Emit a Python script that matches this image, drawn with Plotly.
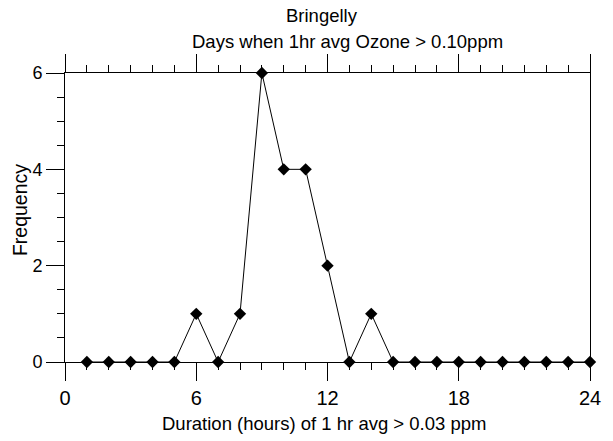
import plotly.graph_objects as go

# Data
duration_hours = list(range(1, 25))
frequency = [0, 0, 0, 0, 0, 1, 0, 1, 6, 4, 4, 2, 0, 1, 0, 0, 0, 0, 0, 0, 0, 0, 0, 0]
x_tick_vals = [0, 6, 12, 18, 24]
y_tick_vals = [0, 2, 4, 6]

title_line1 = "Bringelly"
title_line2 = "Days when 1hr avg Ozone > 0.10ppm"
x_title = "Duration (hours) of 1 hr avg > 0.03 ppm"
y_title = "Frequency"

FONT = "Liberation Sans, Arial, sans-serif"

fig = go.Figure()
fig.add_trace(go.Scatter(
    x=duration_hours, y=frequency, mode="lines+markers",
    line=dict(color="black", width=1),
    marker=dict(symbol="diamond", size=9.5, color="black"),
    cliponaxis=False, showlegend=False,
))

axis_common = dict(
    showgrid=False, zeroline=False, showline=True, linecolor="black", linewidth=1,
    ticks="outside", ticklen=18, tickwidth=1, tickcolor="black",
    tickfont=dict(family=FONT, size=18, color="black"),
)

fig.update_xaxes(
    range=[0, 24], tickmode="array", tickvals=x_tick_vals,
    mirror="ticks",
    minor=dict(ticks="outside", ticklen=7, dtick=1, tick0=0, tickcolor="black", showgrid=False),
    **{**axis_common, "tickfont": dict(family=FONT, size=20, color="black")},
)
fig.update_yaxes(
    range=[0, 6], tickmode="array", tickvals=y_tick_vals,
    mirror=True,
    minor=dict(ticks="outside", ticklen=7, dtick=0.5, tick0=0, tickcolor="black", showgrid=False),
    **axis_common,
)

ann_font = dict(family=FONT, size=18.5, color="black")
fig.update_layout(
    width=613, height=441,
    margin=dict(l=65, r=16, t=73, b=79),
    paper_bgcolor="white", plot_bgcolor="white",
    font=dict(family=FONT, color="black"),
    annotations=[
        dict(text=title_line1, xref="paper", yref="paper", x=0.489, y=1.199,
             xanchor="center", yanchor="middle", showarrow=False, font=ann_font),
        dict(text=title_line2, xref="paper", yref="paper", x=0.5376, y=1.109,
             xanchor="center", yanchor="middle", showarrow=False, font=ann_font),
        dict(text=x_title, xref="paper", yref="paper", x=0.4925, y=-0.2145,
             xanchor="center", yanchor="middle", showarrow=False, font=ann_font),
        dict(text=y_title, xref="paper", yref="paper", x=-0.0855, y=0.526,
             xanchor="center", yanchor="middle", showarrow=False,
             font=dict(family=FONT, size=19.5, color="black"), textangle=-90),
    ],
)

fig.write_html(
    "out.html",
    config={"displayModeBar": False},
    post_script="document.body.style.margin='0';document.body.style.overflow='hidden';",
)
